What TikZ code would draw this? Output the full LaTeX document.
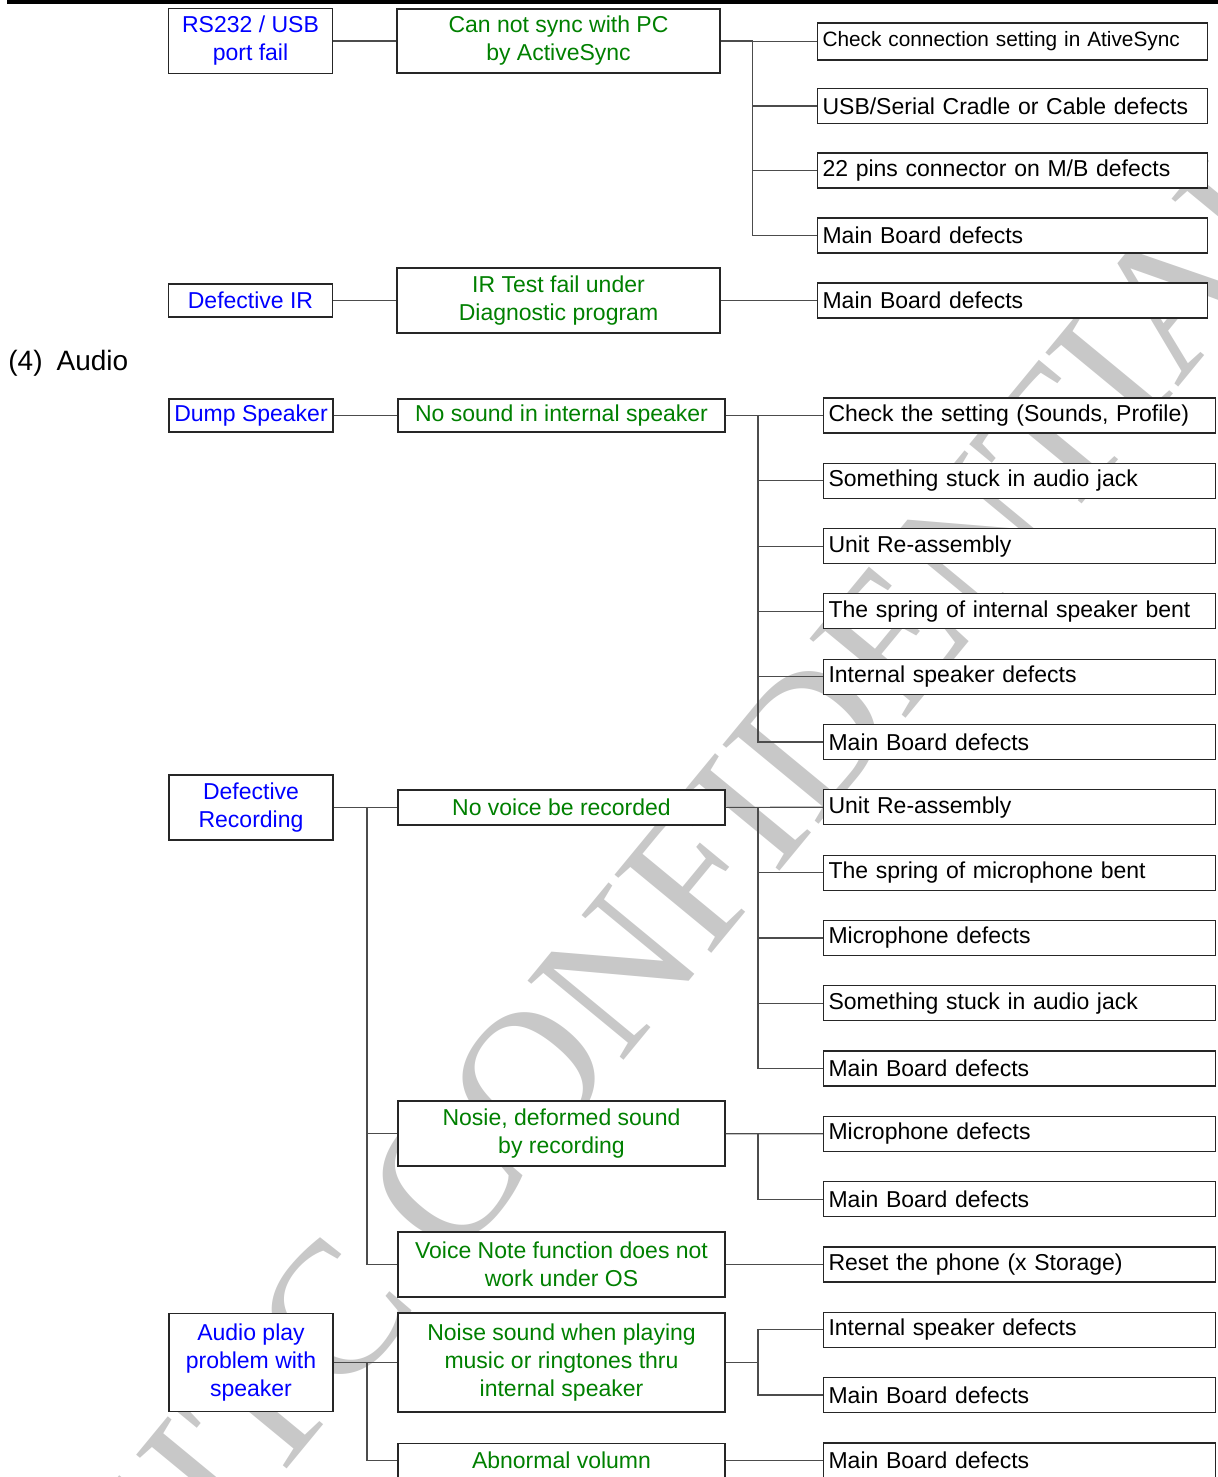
\documentclass[tikz,border=0pt]{standalone}
\usepackage{fontspec}
\setmainfont{Liberation Sans}
\newfontfamily\markfont{Liberation Serif}
\usepackage{tikz}
\usepackage{xcolor}
\usetikzlibrary{positioning, calc}
\definecolor{cBlue}{RGB}{0,0,255}
\definecolor{cGreen}{RGB}{0,128,0}
\definecolor{cMark}{RGB}{200,200,200}
\tikzset{
	cause/.style  ={rectangle, draw=black!85, fill=white, line width=0.55pt, text=cBlue, align=center, minimum width=82pt, inner sep=1pt},
	symptom/.style={rectangle, draw=black!85, fill=white, line width=0.55pt, text=cGreen, align=center, minimum width=163.5pt, inner sep=1pt},
	action/.style ={rectangle, draw=black!85, fill=white, line width=0.55pt, anchor=west, align=left, text width=191pt, inner xsep=2.5pt, inner ysep=1pt, minimum height=17.5pt},
	link/.style   ={draw=black!70, line width=0.6pt},
}

\begin{document}
\begin{tikzpicture}[x=0.5pt, y=-0.5pt, every node/.style={font=\fontsize{11.5}{14}\selectfont}]
	\useasboundingbox (0,0) rectangle (1218,1477);
	\clip (0,0) rectangle (1218,1477);
	% watermark behind everything
	\node[font=\fontsize{95}{95}\selectfont\markfont, text=cMark, rotate=50.5, inner sep=0pt] (mark) at (712,856) {HTC CONFIDENTIAL};
	\draw[line width=2pt] (7,2) -- (1218,2);

	% connectivity
	\node[cause, minimum height=32.5pt] (rs) at (250.5,41) {RS232 / USB\\port fail};
	\node[symptom, minimum width=161.5pt, minimum height=32pt] (sync) at (558.5,41) {Can not sync with PC\\by ActiveSync};
	\node[action, text width=190pt, font=\fontsize{10.4}{12}\selectfont, minimum height=18.5pt] (s1) at (817,41.5) {Check connection setting in AtiveSync};
	\node[action, text width=190pt] (s2) at (817,106) {USB/Serial Cradle or Cable defects};
	\node[action, text width=190pt] (s3) at (817,170.5) {22 pins connector on M/B defects};
	\node[action, text width=190pt] (s4) at (817,235.5) {Main Board defects};
	\coordinate (busS) at (752.5,41);
	\draw[link] (rs) -- (sync); \draw[link] (sync) -- (busS);
	\foreach \n in {s1,s2,s3,s4} \draw[link] (busS) |- (\n.west);

	\node[cause, minimum height=16.5pt] (ir) at (250.5,300.5) {Defective IR};
	\node[symptom, minimum width=161.5pt, minimum height=32.5pt] (irt) at (558.5,300.5) {IR Test fail under\\Diagnostic program};
	\node[action, text width=190pt] (i1) at (817,300.5) {Main Board defects};
	\draw[link] (ir) -- (irt); \draw[link] (irt) -- (i1.west);

	\node[anchor=west, inner sep=0pt, font=\fontsize{14}{16}\selectfont] (sec) at (8,363) {(4)\hspace{7pt}Audio};

	% audio: speaker
	\node[cause, minimum height=16.5pt] (dump) at (251,415.5) {Dump Speaker};
	\node[symptom, minimum height=16.5pt] (nosnd) at (561.5,415.5) {No sound in internal speaker};
	\node[action] (a1) at (823,415.5) {Check the setting (Sounds, Profile)};
	\node[action] (a2) at (823,480.8) {Something stuck in audio jack};
	\node[action] (a3) at (823,546.1) {Unit Re-assembly};
	\node[action] (a4) at (823,611.4) {The spring of internal speaker bent};
	\node[action] (a5) at (823,676.7) {Internal speaker defects};
	\node[action] (a6) at (823,742) {Main Board defects};
	\coordinate (busA) at (758,415.5);
	\draw[link] (dump) -- (nosnd); \draw[link] (nosnd) -- (busA);
	\foreach \n in {a1,a2,a3,a4,a5,a6} \draw[link] (busA) |- (\n.west);

	% audio: recording
	\node[cause, minimum height=32.5pt] (rec) at (251,807.5) {Defective\\Recording};
	\node[symptom, minimum height=17.5pt] (novoice) at (561.5,807.5) {No voice be recorded};
	\node[action] (b1) at (823,807.3) {Unit Re-assembly};
	\node[action] (b2) at (823,872.6) {The spring of microphone bent};
	\node[action] (b3) at (823,937.9) {Microphone defects};
	\node[action] (b4) at (823,1003.2) {Something stuck in audio jack};
	\node[action] (b5) at (823,1068.5) {Main Board defects};
	\node[symptom, minimum height=32.5pt] (nosie) at (561.5,1133.5) {Nosie, deformed sound\\by recording};
	\node[action] (n1) at (823,1133.8) {Microphone defects};
	\node[action] (n2) at (823,1199.1) {Main Board defects};
	\node[symptom, minimum height=32.5pt] (vnote) at (561.5,1264.5) {Voice Note function does not\\work under OS};
	\node[action] (r1) at (823,1264.5) {Reset the phone (x Storage)};
	\coordinate (busR) at (367,807.5);
	\coordinate (busV) at (758,807.5);
	\coordinate (busN) at (758,1133.5);
	\draw[link] (rec) -- (novoice); \draw[link] (novoice) -- (b1.west);
	\foreach \n in {b2,b3,b4,b5} \draw[link] (busV) |- (\n.west);
	\foreach \n in {nosie,vnote} \draw[link] (busR) |- (\n.west);
	\draw[link] (nosie) -- (n1.west); \draw[link] (busN) |- (n2.west);
	\draw[link] (vnote) -- (r1.west);

	% audio: playback
	\node[cause, minimum height=49pt] (play) at (251,1362.5) {Audio play\\problem with\\speaker};
	\node[symptom, minimum height=49.5pt] (noise) at (561.5,1362.5) {Noise sound when playing\\music or ringtones thru\\internal speaker};
	\node[action] (p1) at (823,1329.7) {Internal speaker defects};
	\node[action] (p2) at (823,1395) {Main Board defects};
	\node[symptom, minimum height=17pt] (abn) at (561.5,1460.5) {Abnormal volumn};
	\node[action] (q1) at (823,1460.5) {Main Board defects};
	\coordinate (busP) at (367,1362.5);
	\coordinate (busQ) at (758,1362.5);
	\draw[link] (play) -- (noise); \draw[link] (noise) -- (busQ);
	\foreach \n in {p1,p2} \draw[link] (busQ) |- (\n.west);
	\draw[link] (busP) |- (abn.west); \draw[link] (abn) -- (q1.west);
\end{tikzpicture}
\end{document}
